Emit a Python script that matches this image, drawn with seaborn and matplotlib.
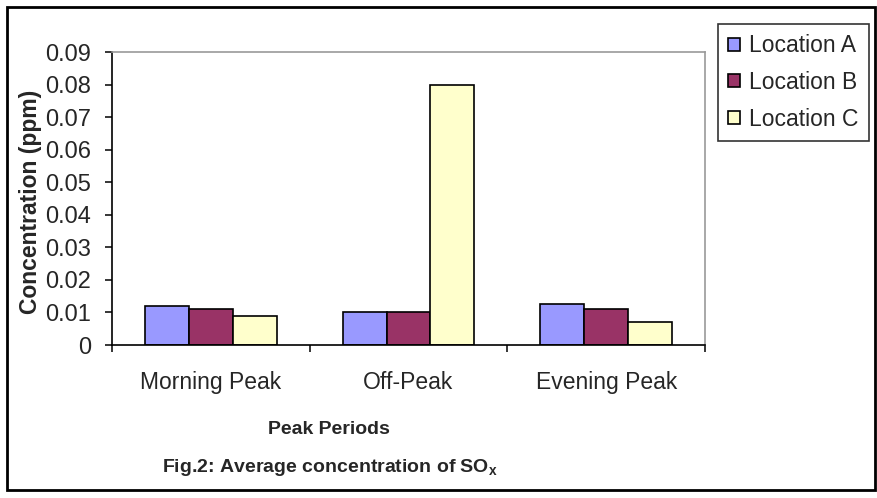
import numpy as np
import pandas as pd
import seaborn as sns
import matplotlib.pyplot as plt
from matplotlib.patches import Rectangle

periods = ['Morning Peak', 'Off-Peak', 'Evening Peak']
locations = ['Location A', 'Location B', 'Location C']
loc_a = [0.012, 0.010, 0.0125]
loc_b = [0.011, 0.010, 0.011]
loc_c = [0.009, 0.080, 0.007]
colors = ['#9999FF', '#993366', '#FFFFCC']
yticks = [0, 0.01, 0.02, 0.03, 0.04, 0.05, 0.06, 0.07, 0.08, 0.09]
ytick_labels = ['0', '0.01', '0.02', '0.03', '0.04', '0.05', '0.06', '0.07', '0.08', '0.09']

df = pd.DataFrame({
    'period': periods * 3,
    'location': [locations[0]] * 3 + [locations[1]] * 3 + [locations[2]] * 3,
    'value': loc_a + loc_b + loc_c,
})

sns.set_style('white')
plt.rcParams['font.family'] = ['Liberation Sans', 'DejaVu Sans']
plt.rcParams['mathtext.fontset'] = 'custom'
plt.rcParams['mathtext.bf'] = 'Liberation Sans:bold'
plt.rcParams['mathtext.rm'] = 'Liberation Sans'

fig = plt.figure(figsize=(8.78, 4.98), dpi=100)
ax = fig.add_axes([112/878, 1-345/498, 593/878, 293/498])

sns.barplot(data=df, x='period', y='value', hue='location', palette=colors,
            saturation=1, edgecolor='black', linewidth=1.2, width=0.667, gap=0, ax=ax)

ax.set_xlim(-0.5, 2.5)
ax.set_ylim(0, 0.09)
ax.set_yticks(yticks)
ax.set_yticklabels(ytick_labels, fontsize=17)
ax.set_xticks([-0.5, 0.5, 1.5, 2.5])
ax.set_xticklabels([])
ax.set_xticks([0, 1, 2], minor=True)
ax.set_xticklabels(periods, minor=True, fontsize=16.5)
ax.tick_params(axis='x', which='minor', length=0, pad=19)
ax.tick_params(axis='both', which='major', direction='out', length=5, width=1.1, color='black')
ax.tick_params(axis='y', pad=10)
ax.tick_params(left=True, bottom=True)

for s in ['left', 'bottom']:
    ax.spines[s].set_color('black')
    ax.spines[s].set_linewidth(1.2)
for s in ['top', 'right']:
    ax.spines[s].set_visible(True)
    ax.spines[s].set_color('#999999')
    ax.spines[s].set_linewidth(1.2)

ax.set_xlabel('')
ax.set_ylabel('Concentration (ppm)', fontsize=16.5, fontweight='bold', va='center')
ax.yaxis.set_label_coords(-0.138, 0.488)

fig.text(329/878, 1-429/498, 'Peak Periods', ha='center', va='center',
         fontsize=14, fontweight='bold')
fig.text(330/878, 1-467/498, r'Fig.2: Average concentration of SO$_\mathbf{x}$',
         ha='center', va='center', fontsize=14, fontweight='bold')

handles, labels = ax.get_legend_handles_labels()
ax.legend(handles, labels, loc='upper left', bbox_to_anchor=(718/878, 1-24/498),
          bbox_transform=fig.transFigure, frameon=True, fancybox=False,
          edgecolor='black', fontsize=16.5, handlelength=0.5, handleheight=0.5,
          handletextpad=0.4, borderpad=0.45, labelspacing=0.6, borderaxespad=0)
ax.get_legend().get_frame().set_linewidth(1.2)

fig.patches.append(Rectangle((7/878, 1-490/498), 868/878, 483/498, transform=fig.transFigure,
                             fill=False, edgecolor='black', linewidth=2))

fig.savefig('out.png', dpi=100)
